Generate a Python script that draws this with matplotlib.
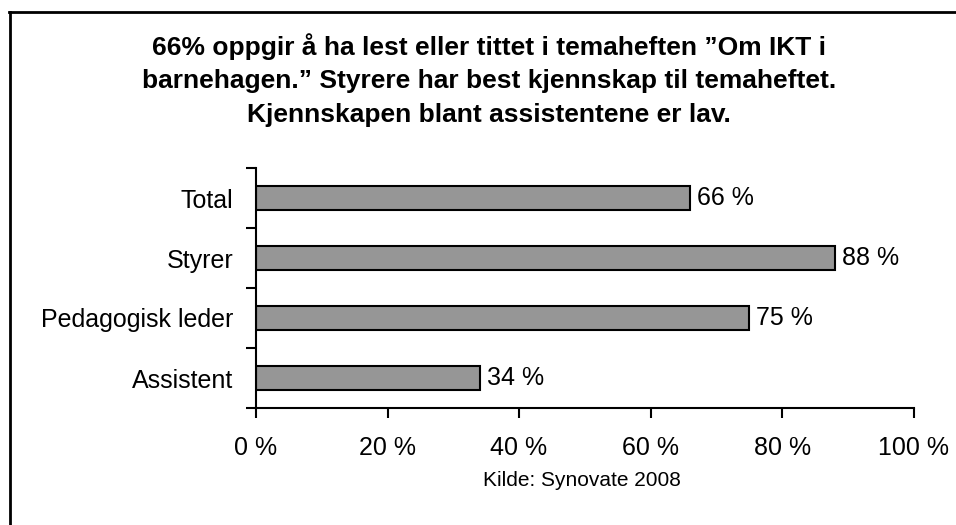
import matplotlib
matplotlib.use("Agg")
import matplotlib.pyplot as plt
from matplotlib.lines import Line2D

categories = ["Total", "Styrer", "Pedagogisk leder", "Assistent"]
values = [66, 88, 75, 34]
xticks = [0, 20, 40, 60, 80, 100]
xtick_labels = ["0 %", "20 %", "40 %", "60 %", "80 %", "100 %"]
title = ("66% oppgir å ha lest eller tittet i temaheften \u201dOm IKT i\n"
         "barnehagen.\u201d Styrere har best kjennskap til temaheftet.\n"
         "Kjennskapen blant assistentene er lav.")
source = "Kilde: Synovate 2008"

plt.rcParams['font.family'] = ['Liberation Sans', 'DejaVu Sans']

W, H = 956, 525
fig = plt.figure(figsize=(W / 100, H / 100), dpi=100)
fig.patch.set_facecolor("white")

ax = fig.add_axes([256 / W, 1 - 408 / H, (913.6 - 256) / W, 240 / H])
ypos = list(range(len(categories)))
ax.barh(ypos, values, height=0.39, color="#969696", edgecolor="black", linewidth=1.5)
ax.set_ylim(len(categories) - 0.5, -0.5)
ax.set_xlim(0, 100)
ax.set_yticks(ypos)
ax.set_yticklabels(categories, fontsize=18)
ax.set_yticks([i + 0.5 for i in range(-1, len(categories))], minor=True)
ax.tick_params(axis="y", which="major", length=0, pad=16.5)
ax.tick_params(axis="y", which="minor", length=7, width=1.5, direction="out")
ax.set_xticks(xticks)
ax.set_xticklabels(xtick_labels, fontsize=18)
ax.tick_params(axis="x", length=7, width=1.5, direction="out", pad=13)
for s in ["top", "right"]:
    ax.spines[s].set_visible(False)
for s in ["left", "bottom"]:
    ax.spines[s].set_linewidth(1.5)

for y, v in zip(ypos, values):
    ax.annotate(f"{v} %", xy=(v, y), xytext=(5, 0), textcoords="offset points",
                va="center", ha="left", fontsize=18)

fig.text(489 / W, 1 - 80 / H, title, ha="center", va="center", fontsize=19,
         fontweight="bold", linespacing=1.5)
fig.text(582 / W, 1 - 481 / H, source, ha="center", va="center", fontsize=15)

# frame (top and left)
fig.add_artist(Line2D([10 / W, 10 / W], [0, 1 - 12 / H], transform=fig.transFigure,
                      color="black", linewidth=2))
fig.add_artist(Line2D([9 / W, 1], [1 - 12 / H, 1 - 12 / H], transform=fig.transFigure,
                      color="black", linewidth=2))

fig.savefig("out.png", dpi=100, facecolor="white")
